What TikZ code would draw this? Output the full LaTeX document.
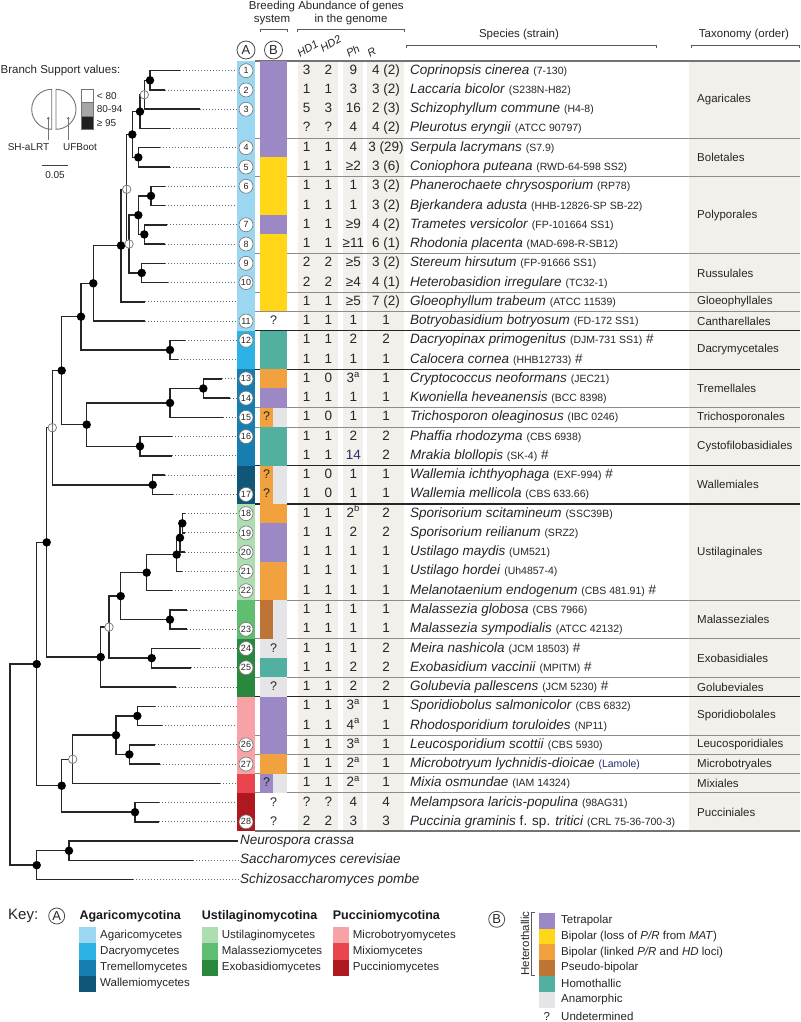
\documentclass[tikz,border=0pt]{standalone}
\usepackage{fontspec}
\setmainfont{Liberation Sans}
\usetikzlibrary{positioning,calc}
% class colours (column A)
\definecolor{AgmBlue}{RGB}{155,215,240}
\definecolor{DacBlue}{RGB}{45,178,230}
\definecolor{TrmBlue}{RGB}{22,126,176}
\definecolor{WalBlue}{RGB}{16,86,120}
\definecolor{UstGreen}{RGB}{172,222,178}
\definecolor{MalGreen}{RGB}{95,190,112}
\definecolor{ExoGreen}{RGB}{42,136,62}
\definecolor{MicRed}{RGB}{246,162,166}
\definecolor{MixRed}{RGB}{234,68,78}
\definecolor{PucRed}{RGB}{174,24,30}
% breeding system colours (column B)
\definecolor{Tetra}{RGB}{155,136,196}
\definecolor{BipLoss}{RGB}{255,214,24}
\definecolor{BipLink}{RGB}{241,162,62}
\definecolor{Pseudo}{RGB}{190,116,52}
\definecolor{Homo}{RGB}{82,176,160}
\definecolor{Anam}{RGB}{229,229,231}
\definecolor{BandGray}{RGB}{243,240,235}
\definecolor{NavyTxt}{RGB}{40,45,110}
\newcommand{\strn}[1]{{\fontsize{10.5}{12}\selectfont #1}}
\tikzset{
  hfont/.style={font=\fontsize{11.5}{13}\selectfont,text=black!85,inner sep=0pt},
  rothead/.style={anchor=south west,rotate=30,inner sep=0pt,
    font=\fontsize{11}{12}\selectfont\itshape,text=black!85},
  hbrack/.style={line width=0.8pt,draw=black!65},
  cell/.style={font=\fontsize{13.5}{15}\selectfont,text=black!85,inner sep=0pt,
    text height=9.5pt,text depth=2.5pt},
  spcell/.style={cell,anchor=west},
  taxcell/.style={font=\fontsize{11.5}{13}\selectfont,text=black!85,anchor=west,inner sep=0pt},
  qcell/.style={cell,font=\fontsize{12.5}{14}\selectfont},
  numcirc/.style={circle,draw=black!55,fill=white,line width=0.6pt,minimum size=14pt,
    inner sep=0pt,font=\fontsize{9}{10}\selectfont,text=black!85},
  keycirc/.style={circle,draw=black!70,line width=0.8pt,minimum size=18pt,inner sep=0pt,
    font=\fontsize{13}{14}\selectfont,text=black!85},
  branch/.style={line width=1.5pt,draw=black!85},
  leafdot/.style={line width=0.9pt,draw=black!60,dash pattern=on 1pt off 2pt},
  suppF/.style={circle,fill=black,minimum size=8.5pt,inner sep=0pt},
  suppO/.style={circle,draw=black!55,fill=white,minimum size=8.5pt,inner sep=0pt,line width=0.7pt,
    path picture={\draw[black!55,line width=0.6pt] (path picture bounding box.north) -- (path picture bounding box.south);}},
  seprule/.style={line width=1pt,draw=black!45},
  classrule/.style={line width=1.3pt,draw=black!85},
  edgerule/.style={line width=2pt,draw=black!55},
  legline/.style={line width=0.9pt,draw=black!55},
  legtxt/.style={font=\fontsize{10}{11}\selectfont,text=black!85,inner sep=0pt},
  keyhead/.style={font=\fontsize{12.5}{14}\selectfont\bfseries,text=black!90,anchor=west,inner sep=0pt},
  keytxt/.style={font=\fontsize{11.5}{13}\selectfont,text=black!85,anchor=west,inner sep=0pt}
}
\begin{document}
\begin{tikzpicture}[x=1pt,y=-1pt]
\fill[white] (0,0) rectangle (800,1022);
\useasboundingbox (0,0) rectangle (800,1022);

% column headers
\node[hfont,align=center] (breed) at (272,13) {Breeding\\system};
\node[hfont,align=center] (abund) at (351,13) {Abundance of genes\\in the genome};
\node[hfont] (spec) at (519,35) {Species (strain)};
\node[hfont] (taxo) at (744,35) {Taxonomy (order)};
\draw[hbrack] (260,32.5) -- (260,29.3) -- (287.3,29.3) -- (287.3,32.5);
\draw[hbrack] (297.7,32.5) -- (297.7,29.3) -- (404.3,29.3) -- (404.3,32.5);
\draw[hbrack] (406,48.5) -- (406,45) -- (656.7,45) -- (656.7,48.5);
\draw[hbrack] (691,48.5) -- (691,45) -- (799,45) -- (799,48.5);
\node[keycirc] (hA) at (246,50) {A};
\node[keycirc] (hB) at (273.5,50) {B};
\node[rothead] (hHDa) at (300,58) {HD1};
\node[rothead] (hHDb) at (323,52.5) {HD2};
\node[rothead] (hPh) at (349,58) {Ph};
\node[rothead] (hR) at (370,58) {R};

% branch support legend
\node[hfont,anchor=west] (bsv) at (0.5,70.7) {Branch Support values:};
\draw[legline] (51.7,129.3) arc[start angle=90,end angle=270,radius=20] -- cycle;
\draw[legline] (56,129.3) arc[start angle=90,end angle=-90,radius=20] -- cycle;
\fill[black!60] (48.3,118.3) circle (1.3pt) (68.3,118.3) circle (1.3pt);
\node[legtxt] (shl) at (28.5,147) {SH-aLRT};
\node[legtxt] (ufb) at (80,147) {UFBoot};
\draw[legline,line width=0.7pt] (48.3,118.3) -- (48.3,140);
\draw[legline,line width=0.7pt] (68.3,118.3) -- (68.3,140);
\draw[legline,fill=white] (81.7,89.3) rectangle (93.3,102.6);
\draw[legline,fill=black!35] (81.7,102.6) rectangle (93.3,116);
\draw[legline,fill=black!88] (81.7,116) rectangle (93.3,129.3);
\node[legtxt,anchor=west] (lo) at (96.7,96) {< 80};
\node[legtxt,anchor=west] (mid) at (96.7,109.3) {80-94};
\node[legtxt,anchor=west] (hi) at (96.7,122.7) {≥ 95};
\draw[line width=1pt,black!75] (41.7,165) -- (68.3,165);
\node[legtxt] (sbar) at (55,175) {0.05};

% ---------- table and tree, one unit of y per row
\begin{scope}[y=-19.26pt,yshift=-51.44pt]
  % shaded columns
  \fill[BandGray] (297.7,0.5) rectangle (338.3,40.5);
  \fill[BandGray] (343.3,0.5) rectangle (363.3,40.5);
  \fill[BandGray] (366.7,0.5) rectangle (404.3,40.5);
  \fill[BandGray] (689.3,0.5) rectangle (800,40.5);
  % rules
  \foreach \k in {4,6,10,12,13,18,19,28,30,32,35,36,37,38}
    \draw[seprule] (255,\k+0.5) -- (800,\k+0.5);
  \foreach \k in {14,16,21,23,33}
    \draw[classrule] (255,\k+0.5) -- (800,\k+0.5);
  \draw[edgerule] (255,0.5) -- (800,0.5);
  \draw[edgerule] (255,40.5) -- (800,40.5);
  % column A
  \foreach \ka/\kb/\col in {1/14/AgmBlue,15/16/DacBlue,17/21/TrmBlue,22/23/WalBlue,
      24/28/UstGreen,29/30/MalGreen,31/33/ExoGreen,34/37/MicRed,38/38/MixRed,39/40/PucRed}
    \fill[\col] (237,\ka-0.5) rectangle (255,\kb+0.5);
  % column B
  \foreach \ka/\kb/\col in {1/5/Tetra,6/8/BipLoss,9/9/Tetra,10/13/BipLoss,15/16/Homo,
      17/17/BipLink,18/18/Tetra,20/21/Homo,24/24/BipLink,25/26/Tetra,27/28/BipLink,
      31/31/Anam,32/32/Homo,33/33/Anam,34/36/Tetra,37/37/BipLink}
    \fill[\col] (260,\ka-0.5) rectangle (287.3,\kb+0.5);
  \foreach \ka/\kb/\col in {19/19/BipLink,22/23/BipLink,29/30/Pseudo,38/38/Tetra}{
    \fill[\col] (260,\ka-0.5) rectangle (273.3,\kb+0.5);
    \fill[Anam] (273.3,\ka-0.5) rectangle (287.3,\kb+0.5);
  }
  \foreach \k/\xq in {14/273.5,31/273.5,33/273.5,39/273.5,40/273.5,
      19/266.7,22/266.7,23/266.7,38/266.7}
    \node[qcell] (q\k) at (\xq,\k) {?};
  % species rows
  \foreach \k/\ha/\hb/\ph/\rr/\nm/\st/\hs in {
    1/3/2/9/{4 (2)}/{Coprinopsis cinerea}/{(7-130)}/{},
    2/1/1/3/{3 (2)}/{Laccaria bicolor}/{(S238N-H82)}/{},
    3/5/3/16/{2 (3)}/{Schizophyllum commune}/{(H4-8)}/{},
    4/?/?/4/{4 (2)}/{Pleurotus eryngii}/{(ATCC 90797)}/{},
    5/1/1/4/{3 (29)}/{Serpula lacrymans}/{(S7.9)}/{},
    6/1/1/≥2/{3 (6)}/{Coniophora puteana}/{(RWD-64-598 SS2)}/{},
    7/1/1/1/{3 (2)}/{Phanerochaete chrysosporium}/{(RP78)}/{},
    8/1/1/1/{3 (2)}/{Bjerkandera adusta}/{(HHB-12826-SP SB-22)}/{},
    9/1/1/≥9/{4 (2)}/{Trametes versicolor}/{(FP-101664 SS1)}/{},
    10/1/1/≥11/{6 (1)}/{Rhodonia placenta}/{(MAD-698-R-SB12)}/{},
    11/2/2/≥5/{3 (2)}/{Stereum hirsutum}/{(FP-91666 SS1)}/{},
    12/2/2/≥4/{4 (1)}/{Heterobasidion irregulare}/{(TC32-1)}/{},
    13/1/1/≥5/{7 (2)}/{Gloeophyllum trabeum}/{(ATCC 11539)}/{},
    14/1/1/1/1/{Botryobasidium botryosum}/{(FD-172 SS1)}/{},
    15/1/1/2/2/{Dacryopinax primogenitus}/{(DJM-731 SS1)}/{~\#},
    16/1/1/1/1/{Calocera cornea}/{(HHB12733)}/{~\#},
    17/1/0/{3\textsuperscript{a}}/1/{Cryptococcus neoformans}/{(JEC21)}/{},
    18/1/1/1/1/{Kwoniella heveanensis}/{(BCC 8398)}/{},
    19/1/0/1/1/{Trichosporon oleaginosus}/{(IBC 0246)}/{},
    20/1/1/2/2/{Phaffia rhodozyma}/{(CBS 6938)}/{},
    21/1/1/{\color{NavyTxt}14}/2/{Mrakia blollopis}/{(SK-4)}/{~\#},
    22/1/0/1/1/{Wallemia ichthyophaga}/{(EXF-994)}/{~\#},
    23/1/0/1/1/{Wallemia mellicola}/{(CBS 633.66)}/{},
    24/1/1/{2\textsuperscript{b}}/2/{Sporisorium scitamineum}/{(SSC39B)}/{},
    25/1/1/2/2/{Sporisorium reilianum}/{(SRZ2)}/{},
    26/1/1/1/1/{Ustilago maydis}/{(UM521)}/{},
    27/1/1/1/1/{Ustilago hordei}/{(Uh4857-4)}/{},
    28/1/1/1/1/{Melanotaenium endogenum}/{(CBS 481.91)}/{~\#},
    29/1/1/1/1/{Malassezia globosa}/{(CBS 7966)}/{},
    30/1/1/1/1/{Malassezia sympodialis}/{(ATCC 42132)}/{},
    31/1/1/1/2/{Meira nashicola}/{(JCM 18503)}/{~\#},
    32/1/1/2/2/{Exobasidium vaccinii}/{(MPITM)}/{~\#},
    33/1/1/2/2/{Golubevia pallescens}/{(JCM 5230)}/{~\#},
    34/1/1/{3\textsuperscript{a}}/1/{Sporidiobolus salmonicolor}/{(CBS 6832)}/{},
    35/1/1/{4\textsuperscript{a}}/1/{Rhodosporidium toruloides}/{(NP11)}/{},
    36/1/1/{3\textsuperscript{a}}/1/{Leucosporidium scottii}/{(CBS 5930)}/{},
    37/1/1/{2\textsuperscript{a}}/1/{Microbotryum lychnidis-dioicae}/{\color{NavyTxt}(Lamole)}/{},
    38/1/1/{2\textsuperscript{a}}/1/{Mixia osmundae}/{(IAM 14324)}/{},
    39/?/?/4/4/{Melampsora laricis-populina}/{(98AG31)}/{},
    40/2/2/3/3/{Puccinia graminis {\upshape f. sp.} tritici}/{(CRL 75-36-700-3)}/{}}{
    \node[cell] (hda\k) at (306.7,\k) {\ha};
    \node[cell] (hdb\k) at (328.3,\k) {\hb};
    \node[cell] (ph\k) at (353.3,\k) {\ph};
    \node[cell] (r\k) at (386,\k) {\rr};
    \node[spcell] (sp\k) at (410,\k) {\textit{\nm} \strn{\st}\hs};
  }
  % orders
  \foreach \m/\tx [count=\i] in {2.5/Agaricales,5.5/Boletales,8.5/Polyporales,11.5/Russulales,
      13/Gloeophyllales,14/Cantharellales,15.5/Dacrymycetales,17.5/Tremellales,
      19/Trichosporonales,20.5/Cystofilobasidiales,22.5/Wallemiales,26/Ustilaginales,
      29.5/Malasseziales,31.5/Exobasidiales,33/Golubeviales,34.5/Sporidiobolales,
      36/Leucosporidiales,37/Microbotryales,38/Mixiales,39.5/Pucciniales}
    \node[taxcell] (tx\i) at (697,\m) {\tx};
  % numbered genomes
  \foreach \k/\n in {1/1,2/2,3/3,5/4,6/5,7/6,9/7,10/8,11/9,12/10,14/11,15/12,17/13,18/14,
      19/15,20/16,23/17,24/18,25/19,26/20,27/21,28/22,30/23,31/24,32/25,36/26,37/27,40/28}
    \node[numcirc] (c\k) at (246,\k) {\n};
  % outgroups
  \node[spcell] (og1) at (240,41) {\textit{Neurospora crassa}};
  \node[spcell] (og2) at (240,42) {\textit{Saccharomyces cerevisiae}};
  \node[spcell] (og3) at (240,43) {\textit{Schizosaccharomyces pombe}};

  % tree: leaf tips and column ends
  \foreach \k/\x in {1/180,2/165,3/200,4/170,5/160,6/170,7/165,8/165,9/167,10/165,
      11/165,12/168,13/145,14/145,15/185,16/178,17/222,18/230,19/223,20/172,
      21/172,22/165,23/173,24/185,25/185,26/185,27/182,28/172,29/187,30/187,
      31/200,32/191,33/176,34/155,35/162,36/155,37/160,38/220,39/159,40/159}{
    \coordinate (t\k) at (\x,\k);
    \coordinate (e\k) at (237,\k);
  }
  \coordinate (o1) at (238,41);
  \coordinate (o2) at (193,42);
  \coordinate (o3) at (133,43);
  % internal nodes
  \coordinate (nA12) at (150,1.5);
  \coordinate (nA123) at (144.3,2.25);
  \coordinate (nAgar) at (140,3.125);
  \coordinate (nBol) at (138.3,5.5);
  \coordinate (nAB) at (132.3,4.3125);
  \coordinate (nPol1) at (151,7.5);
  \coordinate (nPol2) at (144.3,9.5);
  \coordinate (nPol) at (138.3,8.5);
  \coordinate (nRus) at (141.7,11.5);
  \coordinate (nPR) at (129,10);
  \coordinate (nABPR) at (126.7,7.156);
  \coordinate (nAgm1) at (121,10.078);
  \coordinate (nAgm) at (93.3,12.039);
  \coordinate (nDac) at (170,15.5);
  \coordinate (nAD) at (81,13.77);
  \coordinate (nTre) at (203.3,17.5);
  \coordinate (nTT) at (170,18.25);
  \coordinate (nCys) at (140,20.5);
  \coordinate (nTrm) at (86.7,19.375);
  \coordinate (nADT) at (61.7,16.57);
  \coordinate (nWal) at (152.7,22.5);
  \coordinate (nAgy) at (52.3,19.535);
  \coordinate (nU1) at (182.3,24.5);
  \coordinate (nU2) at (180,25.25);
  \coordinate (nU3) at (176.7,26.125);
  \coordinate (nUst) at (146.7,27.06);
  \coordinate (nMal) at (170,29.5);
  \coordinate (nUM) at (120.7,28.28);
  \coordinate (nExo) at (151.7,31.5);
  \coordinate (nUME) at (109,29.89);
  \coordinate (nUstm) at (100.7,31.445);
  \coordinate (nBasid) at (46.7,25.49);
  \coordinate (nSpo) at (137.3,34.5);
  \coordinate (nLM) at (129.3,36.5);
  \coordinate (nMic) at (116,35.5);
  \coordinate (nMM) at (72.7,36.75);
  \coordinate (nPuc) at (135,39.5);
  \coordinate (nPucm) at (61.7,38.125);
  \coordinate (nBas) at (36.7,31.81);
  \coordinate (nOut1) at (69,41.5);
  \coordinate (nOut) at (36.7,42.25);
  \coordinate (root) at (10,37.03);
  % dotted leaf extensions
  \foreach \k in {1,...,40}
    \draw[leafdot] (t\k) -- (e\k);
  \draw[leafdot] (o2) -- (og2.west);
  \draw[leafdot] (o3) -- (og3.west);
  % branches
  \foreach \p/\q in {nA12/t1,nA12/t2,nA123/nA12,nA123/t3,nAgar/nA123,nAgar/t4,
      nBol/t5,nBol/t6,nAB/nAgar,nAB/nBol,nPol1/t7,nPol1/t8,nPol2/t9,nPol2/t10,
      nPol/nPol1,nPol/nPol2,nRus/t11,nRus/t12,nPR/nPol,nPR/nRus,nABPR/nAB,nABPR/nPR,
      nAgm1/nABPR,nAgm1/t13,nAgm/nAgm1,nAgm/t14,nDac/t15,nDac/t16,nAD/nAgm,nAD/nDac,
      nTre/t17,nTre/t18,nTT/nTre,nTT/t19,nCys/t20,nCys/t21,nTrm/nTT,nTrm/nCys,
      nADT/nAD,nADT/nTrm,nWal/t22,nWal/t23,nAgy/nADT,nAgy/nWal,
      nU1/t24,nU1/t25,nU2/nU1,nU2/t26,nU3/nU2,nU3/t27,nUst/nU3,nUst/t28,
      nMal/t29,nMal/t30,nUM/nUst,nUM/nMal,nExo/t31,nExo/t32,nUME/nUM,nUME/nExo,
      nUstm/nUME,nUstm/t33,nBasid/nAgy,nBasid/nUstm,
      nSpo/t34,nSpo/t35,nLM/t36,nLM/t37,nMic/nSpo,nMic/nLM,nMM/nMic,nMM/t38,
      nPuc/t39,nPuc/t40,nPucm/nMM,nPucm/nPuc,nBas/nBasid,nBas/nPucm,
      nOut1/o1,nOut1/o2,nOut/nOut1,nOut/o3,root/nBas,root/nOut}
    \draw[branch] (\p) |- (\q);
  % support values
  \foreach \n in {nA12,nAgar,nBol,nAB,nPol1,nPol2,nPol,nRus,nAgm1,nAgm,nDac,nAD,
      nTre,nTT,nCys,nTrm,nADT,nWal,nU1,nU2,nU3,nUst,nMal,nUM,nExo,nUstm,nBasid,
      nSpo,nLM,nMic,nPuc,nPucm,nBas,nOut1,nOut}
    \node[suppF] (s\n) at (\n) {};
  \foreach \n in {nA123,nPR,nABPR,nAgy,nUME,nMM}
    \node[suppO] (s\n) at (\n) {};
\end{scope}

% ---------- key
\node[font=\fontsize{15}{17}\selectfont,text=black!85,anchor=west,inner sep=0pt] (key) at (8,916) {Key:};
\node[keycirc,minimum size=16pt] (kA) at (56.7,916) {A};
\node[keyhead] (kAgy) at (79.3,916) {Agaricomycotina};
\node[keyhead] (kUst) at (201.7,916) {Ustilaginomycotina};
\node[keyhead] (kPuc) at (332.7,916) {Pucciniomycotina};
\foreach \i/\col/\tx in {0/AgmBlue/Agaricomycetes,1/DacBlue/Dacryomycetes,
    2/TrmBlue/Tremellomycetes,3/WalBlue/Wallemiomycetes}{
  \fill[\col] (79.3,927.3+16.1*\i) rectangle (96,943.4+16.1*\i);
  \node[keytxt] (ka\i) at (100,935.4+16.1*\i) {\tx};
}
\foreach \i/\col/\tx in {0/UstGreen/Ustilaginomycetes,1/MalGreen/Malasseziomycetes,
    2/ExoGreen/Exobasidiomycetes}{
  \fill[\col] (201.7,927.3+16.1*\i) rectangle (218.3,943.4+16.1*\i);
  \node[keytxt] (ku\i) at (221.7,935.4+16.1*\i) {\tx};
}
\foreach \i/\col/\tx in {0/MicRed/Microbotryomycetes,1/MixRed/Mixiomycetes,
    2/PucRed/Pucciniomycetes}{
  \fill[\col] (332.7,927.3+16.1*\i) rectangle (349.3,943.4+16.1*\i);
  \node[keytxt] (kp\i) at (352.7,935.4+16.1*\i) {\tx};
}
\node[keycirc,minimum size=16pt] (kB) at (496.7,919.3) {B};
\node[keytxt,anchor=center,rotate=90] (het) at (525,943.5) {Heterothallic};
\draw[hbrack] (534.5,912.7) -- (531.7,912.7) -- (531.7,975) -- (534.5,975);
\foreach \i/\col/\tx in {0/Tetra/Tetrapolar,
    1/BipLoss/{Bipolar (loss of \textit{P/R} from \textit{MAT})},
    2/BipLink/{Bipolar (linked \textit{P/R} and \textit{HD} loci)},
    3/Pseudo/Pseudo-bipolar,4/Homo/Homothallic,5/Anam/Anamorphic}{
  \fill[\col] (539.3,912.7+15.8*\i) rectangle (555.3,928.5+15.8*\i);
  \node[keytxt] (kb\i) at (561,920.6+15.8*\i) {\tx};
}
\node[keytxt,anchor=center] (kq) at (546.7,1016.7) {?};
\node[keytxt] (kb6) at (561,1016.7) {Undetermined};
\end{tikzpicture}
\end{document}
